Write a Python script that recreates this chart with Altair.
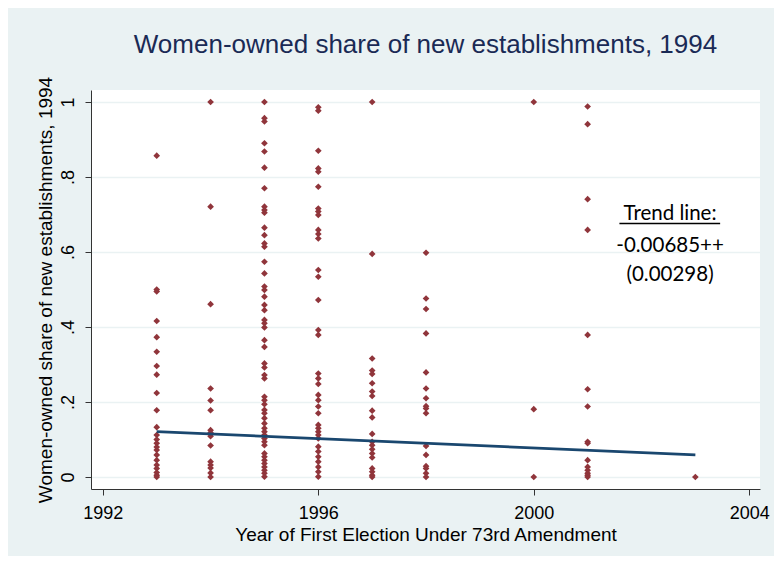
import altair as alt
import pandas as pd

# ---- data ----
years = [1993, 1994, 1995, 1996, 1997, 1998, 2000, 2001, 2003]
y1993 = [0.857, 0.50, 0.495, 0.416, 0.373, 0.334, 0.296, 0.273, 0.224, 0.178, 0.133,
         0.112, 0.10, 0.09, 0.08, 0.072, 0.059, 0.045, 0.032, 0.023, 0.012, 0.005, 0.0]
y1994 = [1.0, 0.721, 0.461, 0.236, 0.204, 0.178, 0.125, 0.118, 0.109, 0.084, 0.041,
         0.032, 0.024, 0.011, 0.0]
y1995 = [1.0, 0.957, 0.948, 0.890, 0.868, 0.825, 0.770, 0.721, 0.712, 0.705, 0.665,
         0.645, 0.623, 0.614, 0.574, 0.543, 0.508, 0.499, 0.481, 0.459, 0.445, 0.419,
         0.410, 0.399, 0.365, 0.347, 0.303, 0.292, 0.272, 0.263, 0.214, 0.205, 0.194,
         0.179, 0.170, 0.157, 0.143, 0.130, 0.121, 0.112, 0.103, 0.094, 0.085, 0.063,
         0.054, 0.045, 0.036, 0.027, 0.018, 0.010, 0.001]
y1996 = [0.986, 0.977, 0.870, 0.823, 0.814, 0.774, 0.716, 0.708, 0.699, 0.659, 0.648,
         0.636, 0.552, 0.534, 0.472, 0.392, 0.379, 0.276, 0.263, 0.248, 0.219, 0.205,
         0.188, 0.170, 0.139, 0.130, 0.121, 0.112, 0.103, 0.081, 0.068, 0.054, 0.041,
         0.027, 0.014, 0.001]
y1997 = [1.0, 0.595, 0.316, 0.284, 0.275, 0.250, 0.228, 0.216, 0.177, 0.159, 0.115,
         0.094, 0.085, 0.074, 0.063, 0.052, 0.023, 0.014, 0.005, 0.0]
y1998 = [0.598, 0.476, 0.448, 0.383, 0.279, 0.236, 0.210, 0.189, 0.183, 0.170, 0.083,
         0.059, 0.029, 0.023, 0.010, 0.0]
y2000 = [1.0, 0.181, 0.0]
y2001 = [0.988, 0.941, 0.741, 0.659, 0.379, 0.234, 0.188, 0.094, 0.090, 0.045, 0.027,
         0.018, 0.010, 0.005, 0.0]
y2003 = [0.0]
columns = [y1993, y1994, y1995, y1996, y1997, y1998, y2000, y2001, y2003]

trend_years = [1993, 2003]
trend_fit = [0.121, 0.059]

ann_text = ["Trend line:", "-0.00685++", "(0.00298)"]
ann_x = [2002.53, 2002.53, 2002.53]
ann_y = [0.685, 0.599, 0.523]
underline_x = [2001.59]
underline_x2 = [2003.46]
underline_y = [0.676]

x_ticks = [1992, 1996, 2000, 2004]
y_ticks = [0, 0.2, 0.4, 0.6, 0.8, 1]

# ---- tables ----
rows = []
for yr, vals in zip(years, columns):
    for v in vals:
        rows.append({"year": yr, "share": v})
df = pd.DataFrame(rows)
df_trend = pd.DataFrame({"year": trend_years, "fit": trend_fit})
df_ann = pd.DataFrame({"x": ann_x, "y": ann_y, "t": ann_text})
df_ul = pd.DataFrame({"x": underline_x, "x2": underline_x2, "y": underline_y})

FONT = "Liberation Sans"
xscale = alt.Scale(domain=[1991.78, 2004.2], nice=False, zero=False)
yscale = alt.Scale(domain=[-0.032, 1.032], nice=False, zero=False)

xaxis = alt.Axis(values=x_ticks, format="d", grid=False, tickSize=6, tickColor="#333333",
                 domainColor="#333333", labelFont=FONT, labelFontSize=18, labelColor="black",
                 labelPadding=9, title="Year of First Election Under 73rd Amendment",
                 titleFont=FONT, titleFontSize=19, titleFontWeight="normal",
                 titleColor="black", titlePadding=3)
yaxis = alt.Axis(values=y_ticks, grid=True, gridColor="#eaf2f3", gridWidth=1.5,
                 tickSize=6, tickColor="#333333", domainColor="#333333",
                 labelFont=FONT, labelFontSize=18, labelColor="black",
                 labelAngle=270, labelAlign="center", labelBaseline="alphabetic",
                 labelPadding=12,
                 labelExpr="datum.value < 0.01 ? '0' : datum.value > 0.99 ? '1' : replace(format(datum.value, '.1f'), '0.', '.')",
                 title="Women-owned share of new establishments, 1994",
                 titleFont=FONT, titleFontSize=19, titleFontWeight="normal",
                 titleColor="black", titlePadding=4)

points = alt.Chart(df).mark_point(shape="diamond", filled=True, size=45, opacity=1,
                                  color="#90353b").encode(
    x=alt.X("year:Q", scale=xscale, axis=xaxis),
    y=alt.Y("share:Q", scale=yscale, axis=yaxis),
)

trend = alt.Chart(df_trend).mark_line(color="#1a476f", strokeWidth=2.7).encode(
    x=alt.X("year:Q", scale=xscale),
    y=alt.Y("fit:Q", scale=yscale),
)

ann = alt.Chart(df_ann).mark_text(font="Lato", fontSize=20.5, color="black",
                                  align="center", baseline="alphabetic").encode(
    x=alt.X("x:Q", scale=xscale),
    y=alt.Y("y:Q", scale=yscale),
    text="t:N",
)

ul = alt.Chart(df_ul).mark_rule(color="black", strokeWidth=1.5).encode(
    x=alt.X("x:Q", scale=xscale),
    x2="x2:Q",
    y=alt.Y("y:Q", scale=yscale),
)

chart = alt.layer(points, trend, ann, ul).properties(
    width=669, height=399,
    autosize=alt.AutoSizeParams(type="none"),
    padding={"left": 83, "top": 82, "right": 14, "bottom": 67},
    title=alt.TitleParams("Women-owned share of new establishments, 1994", font=FONT,
                          fontSize=26, fontWeight="normal", color="#1a2a55",
                          anchor="middle", offset=18),
).configure(background="#eaf2f3").configure_view(fill="white", strokeWidth=0)

chart.save("out.html", embed_options={"renderer": "svg", "actions": False})
